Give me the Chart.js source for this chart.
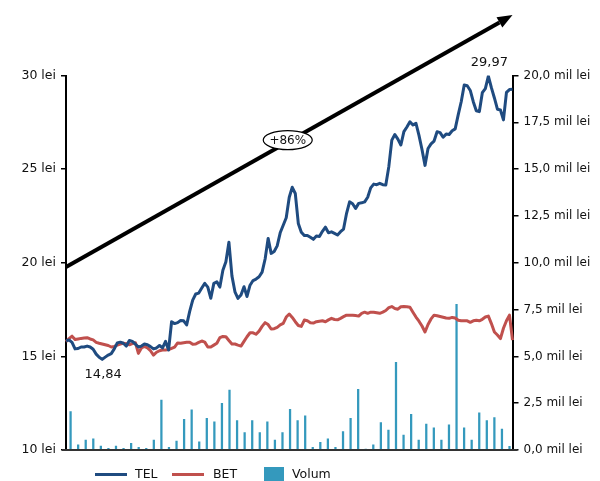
<!DOCTYPE html>
<html>
<head>
<meta charset="utf-8">
<script src="https://cdn.jsdelivr.net/npm/chart.js@4"></script>
<style>
html,body{margin:0;padding:0;background:#fff;}
#wrap{width:600px;height:481px;position:relative;}
</style>
</head>
<body>
<div id="wrap"><canvas id="c" width="600" height="481"></canvas></div>
<script>
// ---- Data ----
const telPrice = [
15.83,15.88,15.75,15.40,15.42,15.50,15.50,15.55,15.50,15.38,
15.12,14.95,14.84,14.96,15.07,15.15,15.40,15.72,15.76,15.70,
15.55,15.85,15.80,15.65,15.50,15.55,15.66,15.62,15.52,15.40,
15.45,15.58,15.45,15.80,15.34,16.85,16.75,16.80,16.92,16.90,
16.68,17.40,18.00,18.33,18.38,18.65,18.90,18.70,18.10,18.90,
18.98,18.70,19.60,20.05,21.10,19.30,18.45,18.10,18.28,18.72,
18.20,18.80,19.05,19.13,19.25,19.50,20.20,21.30,20.50,20.60,
20.90,21.60,22.00,22.40,23.50,24.03,23.70,22.10,21.63,21.45,
21.46,21.36,21.25,21.43,21.40,21.68,21.90,21.60,21.65,21.57,
21.48,21.66,21.80,22.64,23.25,23.15,22.90,23.17,23.20,23.25,
23.50,24.00,24.20,24.17,24.24,24.17,24.15,25.13,26.55,26.85,
26.60,26.29,27.00,27.25,27.53,27.36,27.45,26.80,26.05,25.20,
26.10,26.35,26.50,27.00,26.95,26.70,26.87,26.85,27.05,27.15,
27.90,28.60,29.49,29.45,29.20,28.60,28.12,28.07,29.08,29.30,
29.97,29.35,28.80,28.20,28.16,27.63,29.10,29.25,29.26
];
const betRebased = [
15.78,15.95,16.08,15.90,15.93,15.96,15.98,16.00,15.93,15.88,
15.75,15.70,15.66,15.62,15.58,15.50,15.53,15.60,15.66,15.70,
15.68,15.62,15.68,15.73,15.16,15.45,15.53,15.45,15.30,15.07,
15.22,15.30,15.34,15.34,15.36,15.43,15.50,15.72,15.70,15.73,
15.75,15.76,15.65,15.66,15.75,15.82,15.76,15.50,15.50,15.60,
15.70,16.00,16.06,16.05,15.85,15.66,15.66,15.60,15.55,15.80,
16.05,16.26,16.26,16.18,16.35,16.60,16.80,16.70,16.46,16.48,
16.55,16.68,16.76,17.10,17.26,17.08,16.85,16.65,16.60,16.94,
16.90,16.80,16.78,16.85,16.88,16.90,16.85,16.95,17.03,16.97,
16.95,17.03,17.12,17.20,17.20,17.20,17.18,17.15,17.30,17.36,
17.30,17.36,17.36,17.33,17.30,17.36,17.45,17.60,17.66,17.56,
17.52,17.65,17.66,17.65,17.62,17.36,17.10,16.88,16.62,16.30,
16.70,17.00,17.20,17.17,17.13,17.09,17.05,17.03,17.08,17.05,
16.93,16.90,16.90,16.90,16.82,16.90,16.93,16.90,16.98,17.10,
17.15,16.75,16.30,16.14,15.95,16.50,16.90,17.20,15.87
];
// volume in millions of lei
const volumeMil = [
2.05,0.27,0.53,0.59,0.21,0.09,0.21,0.09,0.36,0.14,
0.09,0.53,2.67,0.14,0.48,1.64,2.14,0.43,1.69,1.51,
2.49,3.20,1.57,0.93,1.57,0.93,1.51,0.53,0.93,2.17,
1.57,1.83,0.14,0.41,0.59,0.14,0.98,1.69,3.24,0.05,
0.27,1.46,1.07,4.68,0.80,1.90,0.53,1.39,1.19,0.53,
1.34,7.78,1.19,0.53,1.99,1.57,1.73,1.12,0.20
];
const dayLabels = telPrice.map((_, i) => 'Z' + (i + 1));
const volLabels = volumeMil.map((_, i) => 'S' + (i + 1));
const seriesNames = ['TEL', 'BET', 'Volum'];
const leftTicks = [10, 15, 20, 25, 30];
const rightTicks = [0, 2.5, 5, 7.5, 10, 12.5, 15, 17.5, 20];
const trendLabel = '+86%';
// trend arrow in data units (day index, lei)
const arrowFrom = {x: 0, y: 19.77};
const arrowTo = {x: 148, y: 33.23};
const trendLabelPos = {x: 73.5, y: 26.55};

const C_TEL = '#1f4b80';
const C_BET = '#c0504d';
const C_VOL = '#3499bd';
const FONT = "'DejaVu Sans', Verdana, sans-serif";

const fmt = v => v.toFixed(2).replace('.', ',');

const deco = {
  id: 'deco',
  afterDatasetsDraw(chart) {
    const ctx = chart.ctx, xs = chart.scales.x, ys = chart.scales.y, a = chart.chartArea;
    ctx.save();
    // baseline
    ctx.strokeStyle = '#333';
    ctx.lineWidth = 2;
    ctx.beginPath();
    ctx.moveTo(a.left - 4, a.bottom);
    ctx.lineTo(a.right + 5, a.bottom);
    ctx.stroke();
    // trend arrow
    const x0 = xs.getPixelForValue(arrowFrom.x), y0 = ys.getPixelForValue(arrowFrom.y);
    const x1 = xs.getPixelForValue(arrowTo.x), y1 = ys.getPixelForValue(arrowTo.y);
    const ang = Math.atan2(y1 - y0, x1 - x0);
    const hl = 15, hw = 6;
    const bx = x1 - hl * Math.cos(ang), by = y1 - hl * Math.sin(ang);
    ctx.strokeStyle = '#000';
    ctx.lineWidth = 4;
    ctx.beginPath();
    ctx.moveTo(x0, y0);
    ctx.lineTo(bx, by);
    ctx.stroke();
    ctx.fillStyle = '#000';
    ctx.beginPath();
    ctx.moveTo(x1, y1);
    ctx.lineTo(bx + hw * Math.sin(ang), by - hw * Math.cos(ang));
    ctx.lineTo(bx - hw * Math.sin(ang), by + hw * Math.cos(ang));
    ctx.closePath();
    ctx.fill();
    // ellipse label
    const ex = xs.getPixelForValue(trendLabelPos.x), ey = ys.getPixelForValue(trendLabelPos.y);
    ctx.beginPath();
    ctx.ellipse(ex, ey, 24.5, 9.5, 0, 0, Math.PI * 2);
    ctx.fillStyle = '#fff';
    ctx.fill();
    ctx.lineWidth = 1.2;
    ctx.strokeStyle = '#000';
    ctx.stroke();
    ctx.fillStyle = '#111';
    ctx.font = '12px ' + FONT;
    ctx.textAlign = 'center';
    ctx.textBaseline = 'middle';
    ctx.fillText(trendLabel, ex, ey + 0.5);
    // min / max labels
    const minV = Math.min(...telPrice), maxV = Math.max(...telPrice);
    const iMin = telPrice.indexOf(minV), iMax = telPrice.indexOf(maxV);
    ctx.font = '13px ' + FONT;
    ctx.fillText(fmt(minV), xs.getPixelForValue(iMin) + 1, ys.getPixelForValue(minV) + 15);
    ctx.fillText(fmt(maxV), xs.getPixelForValue(iMax) + 1, ys.getPixelForValue(maxV) - 13);
    ctx.restore();
  },
  afterDraw(chart) {
    const ctx = chart.ctx;
    const y = 474.5;
    ctx.save();
    ctx.font = '12.5px ' + FONT;
    ctx.textBaseline = 'middle';
    ctx.textAlign = 'left';
    ctx.fillStyle = '#111';
    ctx.lineWidth = 3;
    ctx.strokeStyle = C_TEL;
    ctx.beginPath(); ctx.moveTo(95, y); ctx.lineTo(127, y); ctx.stroke();
    ctx.fillText(seriesNames[0], 135, y);
    ctx.strokeStyle = C_BET;
    ctx.beginPath(); ctx.moveTo(172, y); ctx.lineTo(204, y); ctx.stroke();
    ctx.fillText(seriesNames[1], 213, y);
    ctx.fillStyle = C_VOL;
    ctx.fillRect(264, 467, 20, 14);
    ctx.fillStyle = '#111';
    ctx.fillText(seriesNames[2], 292, y);
    ctx.restore();
  }
};

new Chart(document.getElementById('c'), {
  data: {
    datasets: [
      {type: 'line', label: seriesNames[0], data: telPrice, xAxisID: 'x', yAxisID: 'y',
       borderColor: C_TEL, borderWidth: 3, pointRadius: 0, tension: 0, borderJoinStyle: 'round', order: 1},
      {type: 'line', label: seriesNames[1], data: betRebased, xAxisID: 'x', yAxisID: 'y',
       borderColor: C_BET, borderWidth: 3, pointRadius: 0, tension: 0, borderJoinStyle: 'round', order: 2},
      {type: 'bar', label: seriesNames[2], data: volumeMil, xAxisID: 'xb', yAxisID: 'y2',
       backgroundColor: C_VOL, barThickness: 1.6, order: 3}
    ]
  },
  options: {
    responsive: false,
    animation: false,
    devicePixelRatio: 1,
    layout: {padding: {top: 75.5, bottom: 31, left: 0, right: 0}},
    plugins: {legend: {display: false}, tooltip: {enabled: false}},
    scales: {
      x: {type: 'category', labels: dayLabels, offset: false, display: false},
      xb: {type: 'category', labels: volLabels, offset: true, display: false},
      y: {
        position: 'left', min: 10, max: 30,
        afterBuildTicks: s => { s.ticks = leftTicks.map(v => ({value: v})); },
        afterFit: s => { s.width = 66; },
        grid: {drawOnChartArea: false, drawTicks: true, tickLength: 5, color: '#000', lineWidth: 1.5},
        border: {display: true, color: '#000', width: 2},
        ticks: {padding: 5, color: '#111', font: {family: FONT, size: 12.5},
                callback: v => v + ' lei'}
      },
      y2: {
        position: 'right', min: 0, max: 20,
        afterBuildTicks: s => { s.ticks = rightTicks.map(v => ({value: v})); },
        afterFit: s => { s.width = 87.5; },
        grid: {drawOnChartArea: false, drawTicks: true, tickLength: 6, color: '#000', lineWidth: 1.5},
        border: {display: true, color: '#000', width: 2},
        ticks: {padding: 5, color: '#111', font: {family: FONT, size: 12},
                callback: v => v.toFixed(1).replace('.', ',') + ' mil lei'}
      }
    }
  },
  plugins: [deco]
});
</script>
</body>
</html>
